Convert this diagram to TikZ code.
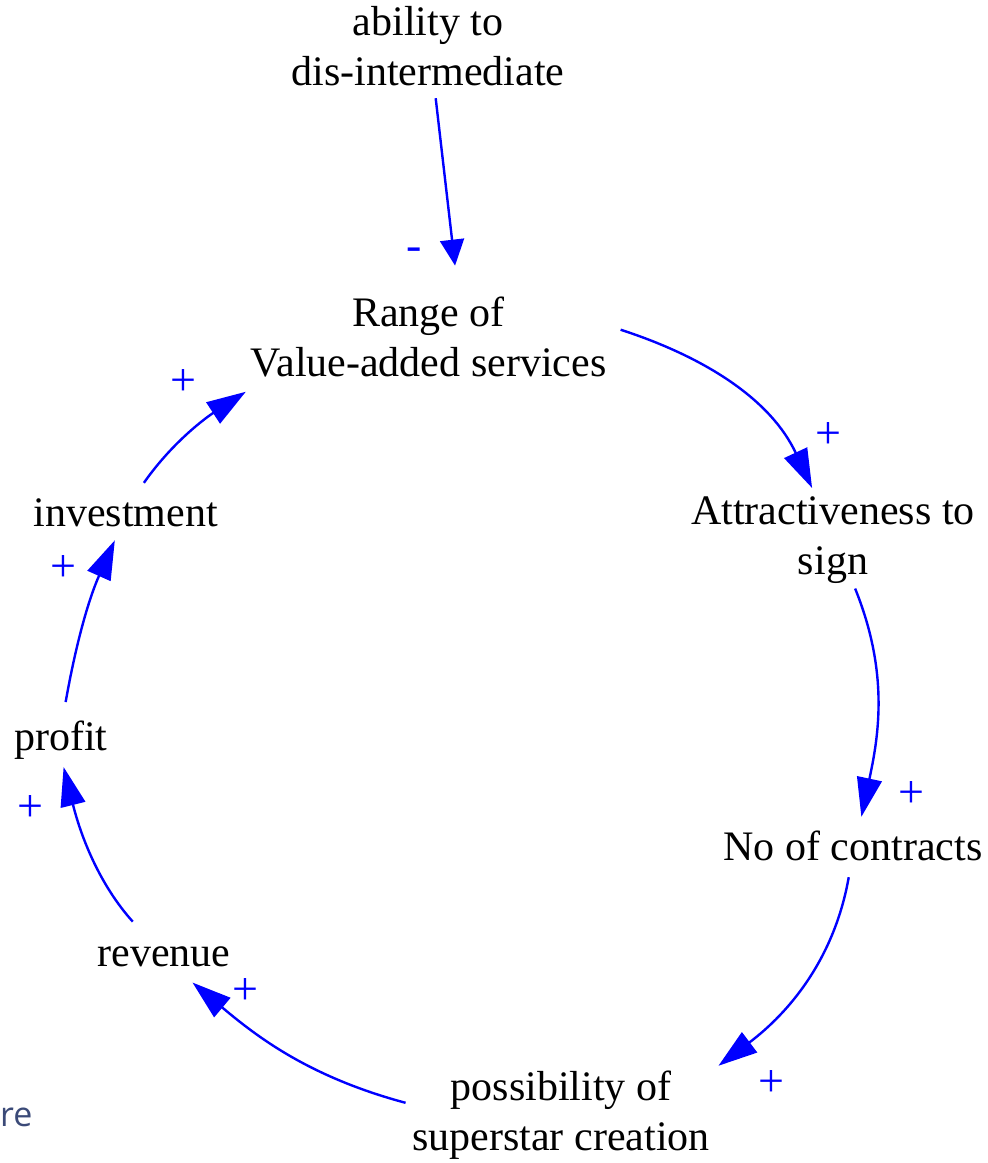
\documentclass[tikz,border=0pt]{standalone}
\usepackage{fontspec}
\setmainfont{Liberation Serif}
\newfontfamily\uifont{Open Sans}
\usetikzlibrary{arrows.meta}

\begin{document}
\begin{tikzpicture}[x=1pt, y=-1pt,
 var/.style={align=center, inner sep=0pt, outer sep=0pt, font=\fontsize{42}{50}\selectfont},
 link/.style={draw=blue, line width=2.4pt, -{Triangle[length=39pt, width=25pt]}},
 pol/.style={text=blue, inner sep=0pt, font=\fontsize{46}{46}\selectfont}]
 \useasboundingbox (0,0) rectangle (988,1163);

 \node[var] (A) at (428,46.5) {ability to\\dis-intermediate};
 \node[var] (R) at (428.5,337.5) {Range of\\Value-added services};
 \node[var] (T) at (833,540.5) {Attractiveness to\\sign};
 \node[var] (N) at (853,845.5) {No of contracts};
 \node[var] (P) at (561,1115) {possibility of\\superstar creation};
 \node[var] (V) at (164,957) {revenue};
 \node[var] (F) at (61,740) {profit};
 \node[var] (I) at (125.5,512.5) {investment};

 \draw[link, shorten <=12pt, shorten >=32pt, -{Triangle[length=26pt, width=24pt]}] (A.-81) -- (R.53);
 \draw[link, shorten <=15pt, shorten >=10pt] (R.4) to[out=-18, in=115] (T.111);
 \draw[link, shorten <=5pt, shorten >=14pt] (T.-65) to[out=-68, in=78] (N.70);
 \draw[link, shorten <=17pt, shorten >=11pt] (N.-95) to[out=-100, in=37] (P.16);
 \draw[link, shorten <=7pt, shorten >=24pt] (P.176) to[out=165, in=-40] (V.-45);
 \draw[link, shorten <=34pt, shorten >=8pt] (V.130) to[out=132, in=-76] (F.-88);
 \draw[link, shorten <=19pt, shorten >=15pt] (F.86) to[out=80, in=-114] (I.-108);
 \draw[link, shorten <=19pt, shorten >=26pt] (I.62) to[out=55, in=-147] (R.-166);

 \node[pol] (s1) at (414,254) {-};
 \node[pol] (s2) at (828,435) {+};
 \node[pol] (s3) at (911,794) {+};
 \node[pol] (s4) at (771,1083) {+};
 \node[pol] (s5) at (245,991) {+};
 \node[pol] (s6) at (30,808) {+};
 \node[pol] (s7) at (63,568) {+};
 \node[pol] (s8) at (183,382) {+};

 \node[anchor=base west, inner sep=0pt, text={rgb,255:red,59;green,74;blue,120}, font=\uifont\fontsize{34}{34}\selectfont] (re) at (0,1126) {re};
\end{tikzpicture}
\end{document}
